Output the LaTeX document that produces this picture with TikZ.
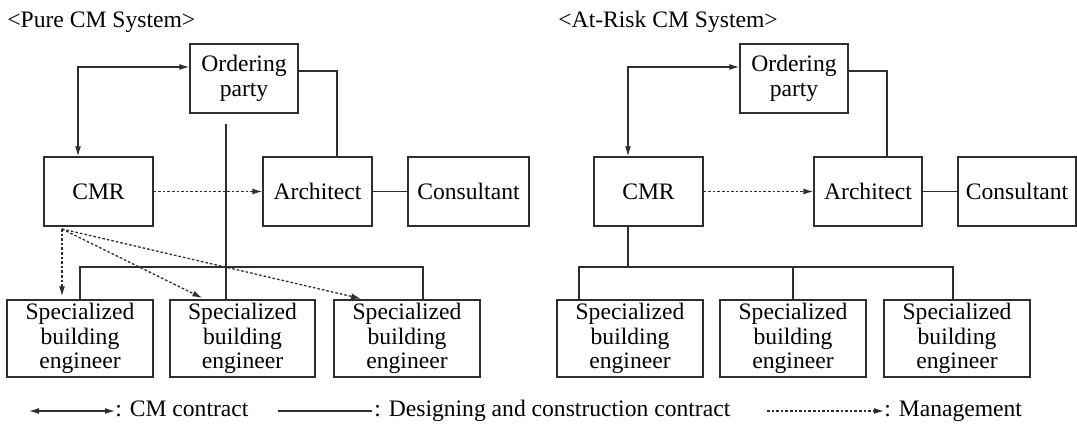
\documentclass[tikz,border=0pt]{standalone}
\usepackage{fontspec}
\setmainfont{Liberation Serif}
\newfontfamily\diagfont{Liberation Serif}
\usetikzlibrary{positioning,calc,arrows.meta}
\definecolor{inkgray}{HTML}{2E2E2E}
\tikzset{
  cmbox/.style={draw=inkgray,line width=0.65pt,inner sep=0pt,align=center,
                minimum height=34.5pt,font=\diagfont\fontsize{11.8}{12.25}\selectfont},
  sbebox/.style={cmbox,minimum width=73pt,minimum height=38.5pt},
  link/.style={draw=inkgray,line width=0.65pt},
  cmlink/.style={link,{Latex[length=5pt,width=3pt]}-{Latex[length=5pt,width=3pt]}},
  mglink/.style={link,dash pattern=on 1.3pt off 1pt,-{Latex[length=5pt,width=3pt]}},
  lgtext/.style={anchor=base west,inner sep=0pt,font=\diagfont\fontsize{11.8}{12.25}\selectfont},
}

\begin{document}
\begin{tikzpicture}[x=0.5pt,y=-0.5pt]
  \useasboundingbox (0,0) rectangle (1077,426);
  % pure CM
  \node[lgtext] (ttlA) at (7,28) {<Pure CM System>};
  \node[cmbox,minimum width=54pt] (ord1) at (244,78.5) {Ordering\\party};
  \node[cmbox,minimum width=54.5pt] (cmr1) at (98.5,191.5) {CMR};
  \node[cmbox,minimum width=54.5pt] (arc1) at (317.5,191.5) {Architect};
  \node[cmbox,minimum width=60.5pt] (con1) at (468.5,191.5) {Consultant};
  \node[sbebox] (seA) at (80,338.5) {Specialized\\building\\engineer};
  \node[sbebox,minimum width=72.5pt] (seB) at (242.5,338.5) {Specialized\\building\\engineer};
  \node[sbebox] (seC) at (407,338.5) {Specialized\\building\\engineer};
  \coordinate (cm1) at (78,67);
  \coordinate (oa1) at (337,71);
  \coordinate (op1) at (226,124);
  \coordinate (bs1) at (423,267);
  \coordinate (md1) at (62,229);
  \draw[cmlink] (cmr1.north -| cm1) -- (cm1) -- (ord1.west |- cm1);
  \draw[link] (ord1.east |- oa1) -| (arc1.north -| oa1);
  \draw[mglink] (cmr1) -- (arc1);
  \draw[link] (arc1) -- (con1);
  \draw[link] (op1) -- (seB.north -| op1);
  \draw[link] (seA.north) |- (bs1) -- (seC.north -| bs1);
  \draw[mglink,shorten >=1.5pt] (md1) -- (seA.north -| md1);
  \draw[mglink,shorten >=1.5pt] (md1) -- ($(seB.north)+(-37.5,0)$);
  \draw[mglink,shorten >=1.5pt] (md1) -- ($(seC.north)+(-43,0)$);
  % at-risk CM
  \node[lgtext] (ttlB) at (558,28) {<At-Risk CM System>};
  \node[cmbox,minimum width=54pt] (ord2) at (794,78.5) {Ordering\\party};
  \node[cmbox,minimum width=54.5pt] (cmr2) at (648.5,191.5) {CMR};
  \node[cmbox,minimum width=54pt] (arc2) at (868,191.5) {Architect};
  \node[cmbox,minimum width=59pt] (con2) at (1017,191.5) {Consultant};
  \node[sbebox] (sr1) at (630,338.5) {Specialized\\building\\engineer};
  \node[sbebox] (sr2) at (793,338.5) {Specialized\\building\\engineer};
  \node[sbebox] (sr3) at (957,338.5) {Specialized\\building\\engineer};
  \coordinate (cm2) at (628,67);
  \coordinate (oa2) at (887,71);
  \coordinate (bs2l) at (579,267);
  \coordinate (bs2r) at (953,267);
  \draw[cmlink] (cmr2.north -| cm2) -- (cm2) -- (ord2.west |- cm2);
  \draw[link] (ord2.east |- oa2) -| (arc2.north -| oa2);
  \draw[mglink] (cmr2) -- (arc2);
  \draw[link] (arc2) -- (con2);
  \draw[link] (cmr2.south -| cm2) -- (cm2 |- bs2l);
  \draw[link] (sr1.north -| bs2l) |- (bs2r) -- (sr3.north -| bs2r);
  \draw[link] (sr2.north) -- (sr2.north |- bs2l);
  % legend
  \coordinate (lgA1) at (29,411);
  \coordinate (lgA2) at (115,411);
  \coordinate (lgB1) at (278,411);
  \coordinate (lgB2) at (372,411);
  \coordinate (lgC1) at (767,411);
  \coordinate (lgC2) at (884,411);
  \draw[cmlink] (lgA1) -- (lgA2);
  \draw[link] (lgB1) -- (lgB2);
  \draw[mglink] (lgC1) -- (lgC2);
  \node[lgtext] (lgAt) at (115,417) {: CM contract};
  \node[lgtext] (lgBt) at (374,417) {: Designing and construction contract};
  \node[lgtext] (lgCt) at (884,417) {: Management};
\end{tikzpicture}
\end{document}
